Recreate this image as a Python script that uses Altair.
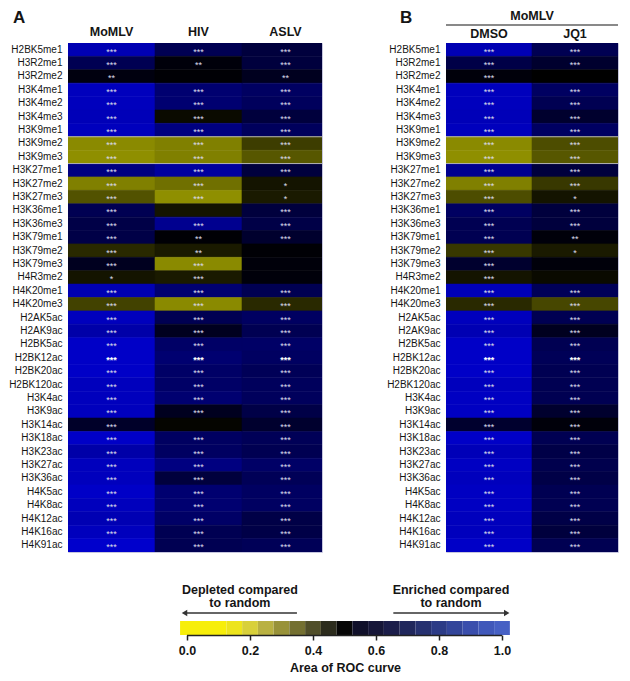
import altair as alt
import pandas as pd

FONT = "Liberation Sans"

marks = ["H2BK5me1", "H3R2me1", "H3R2me2", "H3K4me1", "H3K4me2", "H3K4me3", "H3K9me1",
         "H3K9me2", "H3K9me3", "H3K27me1", "H3K27me2", "H3K27me3", "H3K36me1", "H3K36me3",
         "H3K79me1", "H3K79me2", "H3K79me3", "H4R3me2", "H4K20me1", "H4K20me3",
         "H2AK5ac", "H2AK9ac", "H2BK5ac", "H2BK12ac", "H2BK20ac", "H2BK120ac", "H3K4ac",
         "H3K9ac", "H3K14ac", "H3K18ac", "H3K23ac", "H3K27ac", "H3K36ac", "H4K5ac",
         "H4K8ac", "H4K12ac", "H4K16ac", "H4K91ac"]

panel_a_cols = ["MoMLV", "HIV", "ASLV"]
panel_b_cols = ["DMSO", "JQ1"]

auc_momlv = [0.85, 0.66, 0.53, 0.87, 0.87, 0.86, 0.87, 0.23, 0.22, 0.75, 0.25, 0.34, 0.66, 0.64,
             0.64, 0.42, 0.56, 0.46, 0.85, 0.37,
             0.87, 0.83, 0.89, 0.89, 0.89, 0.87, 0.87, 0.87, 0.58, 0.89, 0.83, 0.87, 0.87, 0.89,
             0.87, 0.85, 0.87, 0.90]
auc_hiv = [0.66, 0.52, 0.51, 0.72, 0.72, 0.48, 0.75, 0.25, 0.25, 0.81, 0.28, 0.22, 0.46, 0.78,
           0.51, 0.45, 0.23, 0.45, 0.72, 0.23,
           0.66, 0.56, 0.70, 0.72, 0.70, 0.70, 0.72, 0.56, 0.49, 0.69, 0.69, 0.75, 0.62, 0.72,
           0.72, 0.70, 0.66, 0.66]
auc_aslv = [0.62, 0.62, 0.56, 0.69, 0.68, 0.62, 0.68, 0.38, 0.33, 0.62, 0.46, 0.45, 0.62, 0.64,
            0.59, 0.51, 0.52, 0.52, 0.66, 0.42,
            0.69, 0.66, 0.70, 0.69, 0.67, 0.68, 0.68, 0.64, 0.59, 0.67, 0.66, 0.70, 0.67, 0.69,
            0.69, 0.64, 0.64, 0.67]
auc_dmso = [0.85, 0.64, 0.52, 0.87, 0.87, 0.86, 0.87, 0.23, 0.22, 0.78, 0.25, 0.35, 0.69, 0.66,
            0.66, 0.39, 0.59, 0.46, 0.86, 0.42,
            0.87, 0.85, 0.89, 0.89, 0.89, 0.87, 0.88, 0.88, 0.59, 0.89, 0.86, 0.88, 0.87, 0.88,
            0.88, 0.87, 0.87, 0.89]
auc_jq1 = [0.66, 0.59, 0.50, 0.69, 0.66, 0.59, 0.69, 0.35, 0.33, 0.62, 0.39, 0.46, 0.62, 0.62,
           0.52, 0.45, 0.52, 0.48, 0.67, 0.36,
           0.66, 0.56, 0.66, 0.67, 0.66, 0.66, 0.66, 0.59, 0.52, 0.66, 0.64, 0.65, 0.64, 0.66,
           0.66, 0.64, 0.62, 0.66]

sig_momlv = ["***", "***", "**", "***", "***", "***", "***", "***", "***", "***", "***", "***",
             "***", "***", "***", "***", "***", "*", "***", "***",
             "***", "***", "***", "***", "***", "***", "***", "***", "***", "***", "***", "***",
             "***", "***", "***", "***", "***", "***"]
sig_hiv = ["***", "**", "", "***", "***", "***", "***", "***", "***", "***", "***", "***",
           "", "***", "**", "**", "***", "***", "***", "***",
           "***", "***", "***", "***", "***", "***", "***", "***", "", "***", "***", "***",
           "***", "***", "***", "***", "***", "***"]
sig_aslv = ["***", "***", "**", "***", "***", "***", "***", "***", "***", "***", "*", "*",
            "***", "***", "***", "", "", "", "***", "***",
            "***", "***", "***", "***", "***", "***", "***", "***", "***", "***", "***", "***",
            "***", "***", "***", "***", "***", "***"]
sig_dmso = ["***", "***", "***", "***", "***", "***", "***", "***", "***", "***", "***", "***",
            "***", "***", "***", "***", "***", "***", "***", "***",
            "***", "***", "***", "***", "***", "***", "***", "***", "***", "***", "***", "***",
            "***", "***", "***", "***", "***", "***"]
sig_jq1 = ["***", "***", "", "***", "***", "***", "***", "***", "***", "***", "***", "*",
           "***", "***", "**", "*", "", "", "***", "***",
           "***", "***", "***", "***", "***", "***", "***", "***", "***", "***", "***", "***",
           "***", "***", "***", "***", "***", "***"]

bold_rows = ["H2BK12ac"]
sep_rows = ["H3K9me2", "H3K27me1"]

# colour key (stepped)
cb_lo = [-0.022, 0.125, 0.175, 0.225, 0.275, 0.325, 0.375, 0.425, 0.475, 0.525, 0.575, 0.625,
         0.675, 0.725, 0.775, 0.825, 0.875, 0.925, 0.975]
cb_hi = [0.125, 0.175, 0.225, 0.275, 0.325, 0.375, 0.425, 0.475, 0.525, 0.575, 0.625, 0.675,
         0.725, 0.775, 0.825, 0.875, 0.925, 0.975, 1.025]
cb_colors = ["#f7ee0a", "#ede41c", "#d8d03a", "#b9b142", "#989239", "#747031", "#504e29",
             "#2c2c1d", "#060606", "#10102a", "#161638", "#1b1d4a", "#20275c", "#263170",
             "#2c3b86", "#33459a", "#3a4eac", "#4058ba", "#4660c4"]
cb_ticks = [0.0, 0.2, 0.4, 0.6, 0.8, 1.0]

ROW_H = 13.4
HEAT_H = round(len(marks) * ROW_H)
TEXT = "#151515"
TOP_Y = -33

heat_scale = alt.Scale(domain=[0, 0.5, 1], range=["#ffff00", "#000000", "#0000ff"],
                       interpolate="rgb")


def make_df(cols, aucs, sigs):
    rows = []
    for c, a_list, s_list in zip(cols, aucs, sigs):
        for m, a, s in zip(marks, a_list, s_list):
            rows.append({"mark": m, "col": c, "auc": a, "sig": s})
    return pd.DataFrame(rows)


def panel(df, cols, col_w, plot_w, head_pad, letter, letter_x, extra=()):
    xs = alt.Scale(type="band", domain=cols, range=[0, col_w * len(cols)],
                   paddingInner=0, paddingOuter=0)
    ys = alt.Scale(type="band", domain=marks, paddingInner=0, paddingOuter=0)
    x_axis = alt.Axis(orient="top", title=None, labelAngle=0, labelFontSize=12.5,
                      labelFontWeight="bold", labelColor=TEXT, ticks=False, tickSize=0,
                      domain=False, labelPadding=head_pad)
    y_axis = alt.Axis(title=None, ticks=False, tickSize=0, domain=False, labelFontSize=10,
                      labelColor=TEXT, labelPadding=6)
    X = alt.X("col:N", scale=xs, axis=x_axis)
    Y = alt.Y("mark:N", scale=ys, axis=y_axis)
    base = alt.Chart(df)
    rect = base.mark_rect(clip=True, strokeWidth=0.6).encode(
        x=X, y=Y,
        color=alt.Color("auc:Q", scale=heat_scale, legend=None),
        stroke=alt.Stroke("auc:Q", scale=heat_scale, legend=None))
    stars = base.transform_filter(
        ~alt.FieldOneOfPredicate(field="mark", oneOf=bold_rows)
    ).mark_text(fontSize=9, color="#dcdcea", baseline="middle", dy=2).encode(
        x=X, y=Y, text="sig:N")
    stars_b = base.transform_filter(
        alt.FieldOneOfPredicate(field="mark", oneOf=bold_rows)
    ).mark_text(fontSize=9, fontWeight="bold", color="#ffffff", baseline="middle",
                dy=2).encode(x=X, y=Y, text="sig:N")
    sep = alt.Chart(pd.DataFrame({"mark": sep_rows})).mark_rule(
        color="#b4b4b4", strokeWidth=1).encode(
        y=alt.Y("mark:N", scale=ys, axis=y_axis, bandPosition=0),
        x=alt.value(0), x2=alt.value(plot_w))
    lt = alt.Chart(pd.DataFrame({"t": [letter]})).mark_text(
        fontSize=17, fontWeight="bold", align="left", baseline="top", color=TEXT).encode(
        x=alt.value(letter_x), y=alt.value(TOP_Y), text="t:N")
    return alt.layer(rect, stars, stars_b, sep, lt, *extra).properties(
        width=plot_w, height=HEAT_H,
        view=alt.ViewBackground(stroke="#c6c6de", strokeWidth=1))


df_a = make_df(panel_a_cols, [auc_momlv, auc_hiv, auc_aslv], [sig_momlv, sig_hiv, sig_aslv])
df_b = make_df(panel_b_cols, [auc_dmso, auc_jq1], [sig_dmso, sig_jq1])

B_W = 172
sup_df = pd.DataFrame({"t": ["MoMLV"]})
sup_text = alt.Chart(sup_df).mark_text(
    fontSize=12.5, fontWeight="bold", align="center", baseline="top", color=TEXT).encode(
    x=alt.value(B_W / 2), y=alt.value(TOP_Y), text="t:N")
sup_rule = alt.Chart(sup_df).mark_rule(color=TEXT, strokeWidth=1.2).encode(
    x=alt.value(0), x2=alt.value(B_W), y=alt.value(-18))

chart_a = panel(df_a, panel_a_cols, 87, 254, 5, "A", -55)
chart_b = panel(df_b, panel_b_cols, 86, B_W, 3, "B", -46, extra=(sup_text, sup_rule))

# ---- colour key (its origin lines up with panel A's plot origin, ~page x 68) ----
ORIGIN_X = 68
CB_W = 548
lo_dom = -(187 - ORIGIN_X) / 315
xs_cb = alt.Scale(domain=[lo_dom, lo_dom + CB_W / 315], nice=False, zero=False)
BAR_T, BAR_B = 37, 51
blk_ids = ["b%d" % i for i in range(len(cb_lo))]
cb_df = pd.DataFrame({"lo": cb_lo, "hi": cb_hi, "blk": blk_ids})

cb_axis = alt.Axis(values=cb_ticks, format=".1f", orient="bottom", domain=False, grid=False,
                   ticks=True, tickSize=5, tickWidth=1.5, tickColor="#222222",
                   labelFontSize=12.5, labelFontWeight="bold", labelColor=TEXT,
                   labelPadding=4, labelFlush=False, title="Area of ROC curve",
                   titleFontSize=12.5, titleFontWeight="bold", titleColor=TEXT,
                   titlePadding=5, titleX=345 - ORIGIN_X)

bar = alt.Chart(cb_df).mark_rect().encode(
    x=alt.X("lo:Q", scale=xs_cb, axis=cb_axis), x2="hi:Q",
    y=alt.value(BAR_T), y2=alt.value(BAR_B),
    color=alt.Color("blk:N", scale=alt.Scale(domain=blk_ids, range=cb_colors), legend=None))

one = pd.DataFrame({"k": [0]})
axis_line = alt.Chart(one).mark_rule(color="#222222", strokeWidth=1.5).encode(
    x=alt.datum(0.0), x2=alt.datum(1.0), y=alt.value(BAR_B + 0.5))


def label(txt, xv, yv):
    return alt.Chart(one).mark_text(fontSize=12.5, fontWeight="bold", color=TEXT,
                                    baseline="middle", align="center").encode(
        x=alt.datum(xv), y=alt.value(yv), text=alt.value(txt))


ARROW_Y = 29
arrow_l = alt.Chart(one).mark_rule(color="#333333", strokeWidth=1.6).encode(
    x=alt.datum(0.349), x2=alt.datum(-0.005), y=alt.value(ARROW_Y))
head_l = alt.Chart(one).mark_point(shape="triangle-left", filled=True, size=40,
                                   color="#333333", opacity=1).encode(
    x=alt.datum(-0.008), y=alt.value(ARROW_Y))
arrow_r = alt.Chart(one).mark_rule(color="#333333", strokeWidth=1.6).encode(
    x=alt.datum(0.655), x2=alt.datum(1.012), y=alt.value(ARROW_Y))
head_r = alt.Chart(one).mark_point(shape="triangle-right", filled=True, size=40,
                                   color="#333333", opacity=1).encode(
    x=alt.datum(1.015), y=alt.value(ARROW_Y))

colorkey = alt.layer(
    bar, axis_line, arrow_l, head_l, arrow_r, head_r,
    label("Depleted compared", 0.168, 6), label("to random", 0.168, 19),
    label("Enriched compared", 0.838, 6), label("to random", 0.838, 19),
).properties(width=CB_W, height=BAR_B,
             view=alt.ViewBackground(stroke="transparent"))

top = alt.hconcat(chart_a, chart_b, spacing=56)
chart = alt.vconcat(top, colorkey, spacing=30).properties(
    padding=0, background="white").configure(font=FONT)

chart.save("out.html", embed_options={"renderer": "svg", "actions": False})
